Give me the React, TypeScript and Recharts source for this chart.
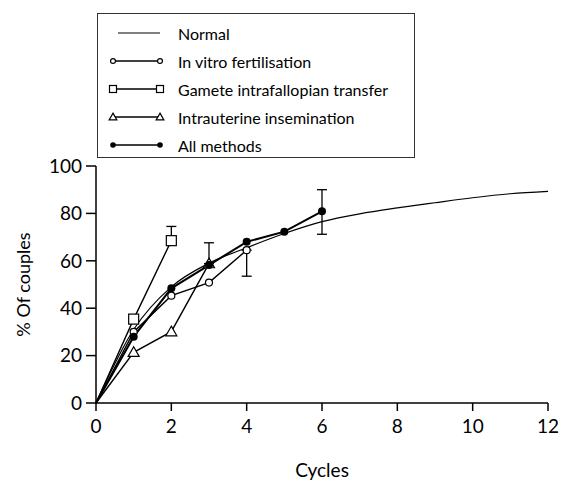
import { LineChart, Line, XAxis, YAxis, ErrorBar, Legend } from 'recharts';

const seriesNames = [
  'Normal',
  'In vitro fertilisation',
  'Gamete intrafallopian transfer',
  'Intrauterine insemination',
  'All methods',
];

const normalCycles = [0, 1, 2, 3, 4, 5, 6, 7, 8, 9, 10, 11, 12];
const normalPct = [0, 31, 49, 59, 65.5, 71.5, 76.5, 79.8, 82.3, 84.5, 86.6, 88.3, 89.3];

const ivfCycles = [0, 1, 2, 3, 4];
const ivfPct = [0, 30, 45.3, 50.8, 64.5];
const ivfErr = [null, null, null, null, [11, 0]];

const giftCycles = [0, 1, 2];
const giftPct = [0, 35.4, 68.5];
const giftErr = [null, null, [0, 6]];

const iuiCycles = [0, 1, 2, 3];
const iuiPct = [0, 21.4, 30.1, 58.8];
const iuiErr = [null, null, null, [0, 8.8]];

const allCycles = [0, 1, 2, 3, 4, 5, 6];
const allPct = [0, 28, 48.4, 58.2, 68, 72.3, 80.9];
const allErr = [null, null, null, null, null, null, [9.7, 9.1]];

const xTicks = [0, 2, 4, 6, 8, 10, 12];
const yTicks = [0, 20, 40, 60, 80, 100];

const toRows = (cycles: number[], pct: number[], err?: (number[] | null)[]) =>
  cycles.map((c, i) => ({ cycle: c, pct: pct[i], err: err && err[i] ? err[i] : undefined }));

const FONT = 'Lato, "Open Sans", sans-serif';

type Kind = 'none' | 'circle' | 'square' | 'triangle' | 'dot';
const markerKinds: Kind[] = ['none', 'circle', 'square', 'triangle', 'dot'];

const Marker = ({ kind, cx, cy, s = 1 }: { kind: Kind; cx: number; cy: number; s?: number }) => {
  if (kind === 'circle') return <circle cx={cx} cy={cy} r={3.5 * s} fill="#fff" stroke="#000" strokeWidth={1.2} />;
  if (kind === 'square') {
    const h = 5 * s;
    return <rect x={cx - h} y={cy - h} width={2 * h} height={2 * h} fill="#fff" stroke="#000" strokeWidth={1.2} />;
  }
  if (kind === 'triangle') {
    const h = 5.5 * s;
    return (
      <path
        d={`M${cx},${cy - h} L${cx + h},${cy + h * 0.75} L${cx - h},${cy + h * 0.75} Z`}
        fill="#fff"
        stroke="#000"
        strokeWidth={1.2}
      />
    );
  }
  if (kind === 'dot') return <circle cx={cx} cy={cy} r={4 * s} fill="#000" />;
  return null;
};

// no marker at the origin, every series starts there
const dotFor = (kind: Kind) => (p: any) => {
  if (p.cx == null || p.cy == null || p.payload?.cycle === 0) return <g key={p.index} />;
  return (
    <g key={p.index}>
      <Marker kind={kind} cx={p.cx} cy={p.cy} />
    </g>
  );
};

const LegendBox = () => (
  <div
    style={{
      width: 318,
      height: 145,
      boxSizing: 'border-box',
      border: '1px solid #333',
      paddingTop: 5,
      background: '#fff',
      fontFamily: FONT,
      fontSize: 16,
      color: '#000',
    }}
  >
    {seriesNames.map((name, i) => (
      <div key={name} style={{ display: 'flex', alignItems: 'center', height: 28 }}>
        <svg width={80} height={14} style={{ flex: 'none' }}>
          <line x1={i === 0 ? 20 : 15} x2={62} y1={7} y2={7} stroke="#000" strokeWidth={i === 0 ? 1 : 1.5} />
          <Marker kind={markerKinds[i]} cx={15} cy={7} s={0.7} />
          <Marker kind={markerKinds[i]} cx={62} cy={7} s={0.7} />
        </svg>
        <span>{name}</span>
      </div>
    ))}
  </div>
);

export default function App() {
  const tickStyle = { fontFamily: FONT, fontSize: 19, fill: '#000' };
  return (
    <div style={{ position: 'absolute', left: 0, top: 0, width: 573, height: 480, background: '#fff' }}>
      <LineChart width={573} height={480} margin={{ top: 166, right: 25, bottom: 0, left: 0 }}>
        <XAxis
          type="number"
          dataKey="cycle"
          domain={[0, 12]}
          ticks={xTicks}
          tickSize={8}
          tickMargin={9}
          height={77}
          stroke="#000"
          strokeWidth={1.5}
          tick={tickStyle}
          allowDuplicatedCategory={false}
          label={{ value: 'Cycles', position: 'insideBottom', offset: 3, style: { fontFamily: FONT, fontSize: 19, fill: '#000' } }}
        />
        <YAxis
          type="number"
          domain={[0, 100]}
          ticks={yTicks}
          tickSize={10}
          tickMargin={4}
          width={96}
          stroke="#000"
          strokeWidth={1.5}
          tick={tickStyle}
          label={{
            value: '% Of couples',
            angle: -90,
            position: 'insideLeft',
            offset: 24,
            style: { textAnchor: 'middle', fontFamily: FONT, fontSize: 18, fill: '#000' },
          }}
        />
        <Legend
          layout="vertical"
          align="center"
          verticalAlign="middle"
          content={<LegendBox />}
          wrapperStyle={{ position: 'absolute', left: 97, top: 13, width: 318, height: 145 }}
        />
        <Line
          data={toRows(normalCycles, normalPct)}
          dataKey="pct"
          name={seriesNames[0]}
          type="monotone"
          stroke="#000"
          strokeWidth={1.2}
          dot={false}
          activeDot={false}
          isAnimationActive={false}
        />
        <Line
          data={toRows(ivfCycles, ivfPct, ivfErr)}
          dataKey="pct"
          name={seriesNames[1]}
          type="linear"
          stroke="#000"
          strokeWidth={1.4}
          dot={dotFor('circle')}
          activeDot={false}
          isAnimationActive={false}
        >
          <ErrorBar dataKey="err" width={5} stroke="#000" strokeWidth={1.3} isAnimationActive={false} />
        </Line>
        <Line
          data={toRows(giftCycles, giftPct, giftErr)}
          dataKey="pct"
          name={seriesNames[2]}
          type="linear"
          stroke="#000"
          strokeWidth={1.4}
          dot={dotFor('square')}
          activeDot={false}
          isAnimationActive={false}
        >
          <ErrorBar dataKey="err" width={5} stroke="#000" strokeWidth={1.3} isAnimationActive={false} />
        </Line>
        <Line
          data={toRows(iuiCycles, iuiPct, iuiErr)}
          dataKey="pct"
          name={seriesNames[3]}
          type="linear"
          stroke="#000"
          strokeWidth={1.4}
          dot={dotFor('triangle')}
          activeDot={false}
          isAnimationActive={false}
        >
          <ErrorBar dataKey="err" width={5} stroke="#000" strokeWidth={1.3} isAnimationActive={false} />
        </Line>
        <Line
          data={toRows(allCycles, allPct, allErr)}
          dataKey="pct"
          name={seriesNames[4]}
          type="linear"
          stroke="#000"
          strokeWidth={2}
          dot={dotFor('dot')}
          activeDot={false}
          isAnimationActive={false}
        >
          <ErrorBar dataKey="err" width={5} stroke="#000" strokeWidth={1.3} isAnimationActive={false} />
        </Line>
      </LineChart>
    </div>
  );
}
